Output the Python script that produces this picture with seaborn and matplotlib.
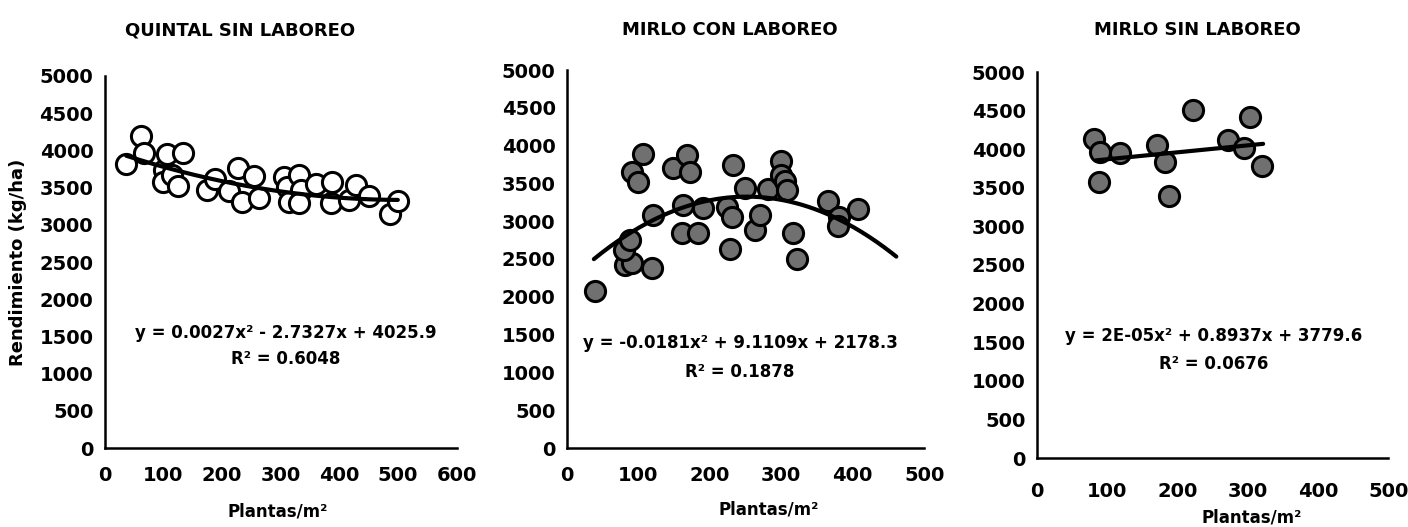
import numpy as np
import pandas as pd
import matplotlib
matplotlib.use("Agg")
import matplotlib.pyplot as plt
import seaborn as sns

sns.set_theme(style="white")
plt.rcParams["font.family"] = ["DejaVu Sans"]
plt.rcParams["font.weight"] = "bold"

# ---------------- data ----------------
titles = ["QUINTAL SIN LABOREO", "MIRLO CON LABOREO", "MIRLO SIN LABOREO"]

quintal_sl_x = [37, 62, 68, 102, 100, 106, 115, 125, 133, 174, 188, 213, 227, 234, 255,
                264, 306, 311, 314, 332, 335, 332, 360, 387, 386, 416, 429, 450, 487, 500]
quintal_sl_y = [3820, 4200, 3970, 3740, 3580, 3950, 3670, 3520, 3970, 3470, 3610, 3450, 3770, 3300, 3650,
                3360, 3640, 3510, 3310, 3670, 3470, 3290, 3545, 3580, 3290, 3330, 3535, 3390, 3150, 3320]

mirlo_cl_x = [39, 82, 92, 80, 88, 92, 100, 107, 119, 121, 148, 168, 172, 162, 161, 184, 191, 224,
              231, 228, 232, 249, 263, 270, 281, 300, 300, 305, 308, 316, 322, 366, 381, 380, 408]
mirlo_cl_y = [2080, 2420, 2450, 2620, 2750, 3650, 3520, 3890, 2380, 3080, 3710, 3870, 3655, 3220, 2850,
              2850, 3170, 3190, 3060, 2630, 3740, 3440, 2880, 3080, 3430, 3800, 3610, 3530, 3410, 2850,
              2500, 3270, 3060, 2930, 3160]

mirlo_sl_x = [81, 90, 88, 118, 171, 183, 188, 222, 272, 295, 304, 321]
mirlo_sl_y = [4130, 3970, 3580, 3950, 4050, 3840, 3400, 4510, 4120, 4020, 4420, 3780]

# trendline coefficients (a, b, c) as printed, and x-range of the drawn line
trend_coef = [(0.0027, -2.7327, 4025.9), (-0.0181, 9.1109, 2178.3), (2e-05, 0.8937, 3779.6)]
trend_range = [(37, 500), (38, 461), (84, 322)]
equations = ["y = 0.0027x² - 2.7327x + 4025.9",
             "y = -0.0181x² + 9.1109x + 2178.3",
             "y = 2E-05x² + 0.8937x + 3779.6"]
r2_text = ["R² = 0.6048", "R² = 0.1878", "R² = 0.0676"]

x_max = [600, 500, 500]
y_ticks = list(range(0, 5001, 500))
ylabel = "Rendimiento (kg/ha)"
xlabel = "Plantas/m²"

# ---------------- layout ----------------
W, H = 1408, 527
fig = plt.figure(figsize=(W / 100, H / 100), dpi=100)
fig.patch.set_facecolor("white")

axes_px = [(104.5, 76, 456.5, 448), (566.7, 70, 924.2, 448), (1036.7, 72, 1388.3, 458)]
xpad = [7, 7, 11]
title_px = [(240, 30), (730, 30), (1197, 30)]
xlabel_px = [(278, 511), (769, 510), (1252, 518)]
eq_px = [(286, 333), (740, 343), (1214, 336)]
r2_px = [(286, 359), (740, 372), (1214, 364)]

datasets = [(quintal_sl_x, quintal_sl_y), (mirlo_cl_x, mirlo_cl_y), (mirlo_sl_x, mirlo_sl_y)]
faces = ["white", "#707070", "#707070"]

def fx(px):
    return px / W

def fy(py):
    return 1 - py / H

for i in range(3):
    l, t, r, b = axes_px[i]
    ax = fig.add_axes([fx(l), fy(b), (r - l) / W, (b - t) / H])
    xs, ys = datasets[i]
    df = pd.DataFrame({"x": xs, "y": ys})

    a, bb, c = trend_coef[i]
    lx = np.linspace(trend_range[i][0], trend_range[i][1], 200)
    ldf = pd.DataFrame({"x": lx, "y": a * lx ** 2 + bb * lx + c})

    sns.scatterplot(data=df, x="x", y="y", ax=ax, s=210, color=faces[i],
                    edgecolor="black", linewidth=2.2, zorder=2, legend=False)
    sns.lineplot(data=ldf, x="x", y="y", ax=ax, color="black", linewidth=3.0,
                 zorder=3, legend=False)

    ax.set_xlim(0, x_max[i])
    ax.set_ylim(0, 5000)
    ax.set_xticks(list(range(0, x_max[i] + 1, 100)))
    ax.set_yticks(y_ticks)
    ax.set_xlabel("")
    ax.set_ylabel("")
    for s in ["top", "right"]:
        ax.spines[s].set_visible(False)
    for s in ["left", "bottom"]:
        ax.spines[s].set_color("black")
        ax.spines[s].set_linewidth(1.8)
    ax.tick_params(axis="both", which="both", direction="out", length=6, width=1.5,
                   color="black", labelsize=14, labelcolor="black")
    ax.tick_params(axis="y", pad=2)
    ax.tick_params(axis="x", pad=xpad[i])
    ax.set_facecolor("white")
    ax.grid(False)
    for lab in ax.get_xticklabels() + ax.get_yticklabels():
        lab.set_fontweight("bold")

    fig.text(fx(title_px[i][0]), fy(title_px[i][1]), titles[i], ha="center", va="center",
             fontsize=13, fontweight="bold", color="black")
    fig.text(fx(xlabel_px[i][0]), fy(xlabel_px[i][1]), xlabel, ha="center", va="center",
             fontsize=12, fontweight="bold", color="black")
    fig.text(fx(eq_px[i][0]), fy(eq_px[i][1]), equations[i], ha="center", va="center",
             fontsize=12, fontweight="bold", color="black")
    fig.text(fx(r2_px[i][0]), fy(r2_px[i][1]), r2_text[i], ha="center", va="center",
             fontsize=12, fontweight="bold", color="black")

fig.text(fx(18), fy(262), ylabel, rotation=90, ha="center", va="center",
         fontsize=13, fontweight="bold", color="black")

fig.savefig("out.png", dpi=100, facecolor="white")
